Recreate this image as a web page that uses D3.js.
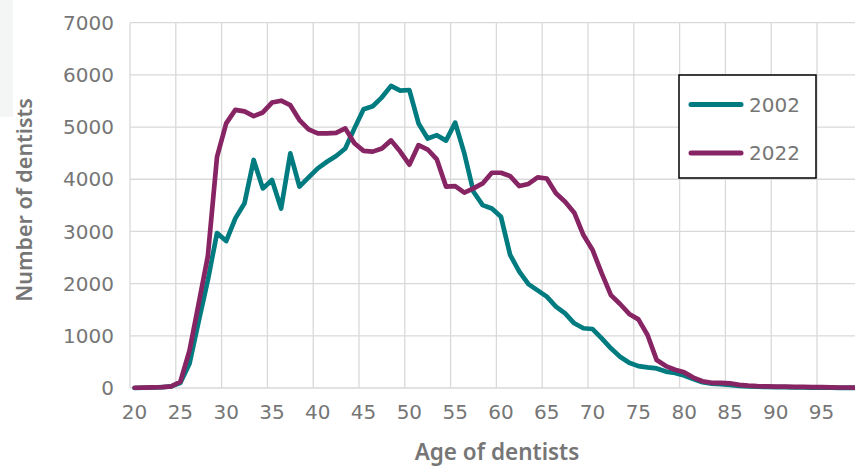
<!DOCTYPE html>
<html>
<head>
<meta charset="utf-8">
<script src="https://cdn.jsdelivr.net/npm/d3@7"></script>
<style>
  body { margin: 0; background: #fff; }
  text { font-family: "DejaVu Sans", sans-serif; }
</style>
</head>
<body>
<div id="chart"></div>
<script>
var width = 855;
var height = 466;

// ages 20..99
let ages = d3.range(20, 100);
let series2002 = [0, 5, 10, 15, 30, 100, 470, 1280, 2070, 2970,
    2815, 3250, 3540, 4370, 3825, 3985, 3440, 4495, 3860, 4035,
    4210, 4335, 4445, 4590, 4975, 5340, 5400, 5570, 5790, 5700,
    5710, 5070, 4780, 4845, 4740, 5085, 4495, 3760, 3505, 3440,
    3280, 2550, 2230, 1990, 1870, 1750, 1560, 1430, 1240, 1145,
    1130, 950, 760, 600, 485, 420, 395, 375, 315, 290,
    240, 170, 110, 85, 75, 60, 40, 30, 25, 20,
    15, 15, 12, 10, 8, 6, 5, 4, 3, 2];
let series2022 = [5, 8, 12, 18, 30, 120, 720, 1620, 2530, 4430,
    5070, 5330, 5300, 5210, 5280, 5470, 5505, 5420, 5135, 4955,
    4880, 4880, 4890, 4975, 4690, 4545, 4530, 4590, 4745, 4530,
    4280, 4655, 4570, 4380, 3860, 3870, 3745, 3825, 3920, 4125,
    4125, 4060, 3870, 3910, 4035, 4015, 3730, 3570, 3360, 2930,
    2645, 2195, 1780, 1610, 1420, 1315, 1015, 535, 420, 350,
    300, 200, 130, 100, 100, 90, 60, 45, 35, 30,
    25, 25, 22, 20, 18, 15, 12, 10, 10, 8];
let yTicks = [0, 1000, 2000, 3000, 4000, 5000, 6000, 7000];
let xTickAges = d3.range(20, 100, 5);
let seriesNames = ["2002", "2022"];
let seriesColors = {"2002": "#007c80", "2022": "#872463"};

var svg = d3.select("#chart").append("svg")
    .attr("width", width).attr("height", height);

// faint panel at the top-left edge
svg.append("rect").attr("x", 0).attr("y", 0).attr("width", 13).attr("height", 117)
    .attr("fill", "#f4f5f5");

let x = d3.scaleBand().domain(ages).range([130, 130 + ages.length * 9.16]).padding(0);
let y = d3.scaleLinear().domain([0, 7000]).range([388, 22.7]);
let cx = a => x(a) + x.bandwidth() / 2;

// grid
let grid = svg.append("g");
grid.selectAll(".hgrid").data(yTicks).join("line")
    .attr("class", "hgrid")
    .attr("x1", 130).attr("x2", width)
    .attr("y1", d => y(d)).attr("y2", d => y(d))
    .attr("stroke", "#d9d9d9").attr("stroke-width", 1.3);
grid.selectAll(".vgrid").data(xTickAges).join("line")
    .attr("class", "vgrid")
    .attr("x1", d => x(d)).attr("x2", d => x(d))
    .attr("y1", y(7000)).attr("y2", y(0))
    .attr("stroke", "#d9d9d9").attr("stroke-width", 1.3);

// y tick labels
svg.append("g").selectAll("text").data(yTicks).join("text")
    .attr("x", 114).attr("y", d => y(d))
    .attr("dy", "0.36em")
    .attr("text-anchor", "end")
    .attr("font-size", 20).attr("fill", "#767676")
    .text(d => d);

// x tick labels
svg.append("g").selectAll("text").data(xTickAges).join("text")
    .attr("x", d => cx(d)).attr("y", 412)
    .attr("dy", "0.36em")
    .attr("text-anchor", "middle")
    .attr("font-size", 20).attr("fill", "#767676")
    .text(d => d);

// axis titles
svg.append("text")
    .attr("x", 497).attr("y", 460)
    .attr("text-anchor", "middle")
    .attr("font-size", 22.5).attr("font-weight", 600)
    .style("font-family", "'Noto Sans', sans-serif")
    .attr("fill", "#767676")
    .text("Age of dentists");
svg.append("text")
    .attr("transform", "translate(32,200) rotate(-90)")
    .attr("text-anchor", "middle")
    .attr("font-size", 21.5).attr("font-weight", 600)
    .style("font-family", "'Noto Sans', sans-serif")
    .attr("fill", "#767676")
    .text("Number of dentists");

// lines
let line = d3.line().x((d, i) => cx(ages[i])).y(d => y(d));
let seriesData = {"2002": series2002, "2022": series2022};
seriesNames.forEach(function(name) {
    svg.append("path")
        .datum(seriesData[name])
        .attr("d", line)
        .attr("fill", "none")
        .attr("stroke", seriesColors[name])
        .attr("stroke-width", 4.7)
        .attr("stroke-linejoin", "round")
        .attr("stroke-linecap", "round");
});

// legend
let legend = svg.append("g");
legend.append("rect")
    .attr("x", 679).attr("y", 75).attr("width", 137).attr("height", 103)
    .attr("fill", "#fff").attr("stroke", "#000").attr("stroke-width", 1.5);
legend.selectAll(".leg-line").data(seriesNames).join("line")
    .attr("class", "leg-line")
    .attr("x1", 691).attr("x2", 741)
    .attr("y1", (d, i) => 104.5 + i * 48.5).attr("y2", (d, i) => 104.5 + i * 48.5)
    .attr("stroke", d => seriesColors[d])
    .attr("stroke-width", 5).attr("stroke-linecap", "round");
legend.selectAll(".leg-text").data(seriesNames).join("text")
    .attr("class", "leg-text")
    .attr("x", 749).attr("y", (d, i) => 104.5 + i * 48.5)
    .attr("dy", "0.36em")
    .attr("font-size", 20).attr("fill", "#767676")
    .text(d => d);
</script>
</body>
</html>
